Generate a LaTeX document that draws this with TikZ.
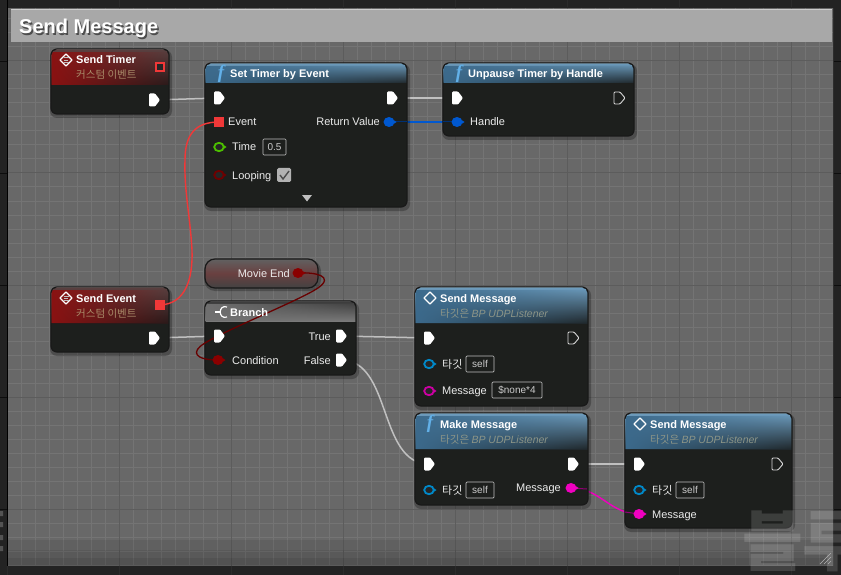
\documentclass[tikz,border=0pt]{standalone}
\usepackage{fontspec}
\setmainfont{Liberation Sans}
\newfontfamily\kr{Noto Sans CJK KR}
\newfontfamily\serifi{Liberation Serif}
\usetikzlibrary{fadings,calc}
\definecolor{bodyc}{HTML}{1D1F1D}
\definecolor{wiregray}{HTML}{C0C0C0}
\definecolor{evred}{HTML}{F03838}
\definecolor{bluepin}{HTML}{0058D0}
\definecolor{tgtblue}{HTML}{0088C8}
\definecolor{magpin}{HTML}{F000C0}
\definecolor{darkred}{HTML}{8A0000}
\definecolor{subtan}{HTML}{A88A68}
\definecolor{subgray}{HTML}{8C9588}
\definecolor{bgc}{HTML}{686868}
\definecolor{bgshade}{HTML}{505050}
\definecolor{gridminor}{HTML}{747474}
\definecolor{gridmajor}{HTML}{5C5C5C}
\definecolor{outerc}{HTML}{232323}
\definecolor{blueTop}{HTML}{6E9EC0}
\definecolor{blueBot}{HTML}{20282C}
\definecolor{blueFade}{HTML}{3C6A8C}
\definecolor{redTop}{HTML}{5A4040}
\definecolor{redBot}{HTML}{2A1A1A}
\definecolor{redFade}{HTML}{8A1212}
\definecolor{grayTop}{HTML}{3A3A3A}
\definecolor{grayBot}{HTML}{7A7A7A}
\definecolor{grayFade}{HTML}{707070}
\definecolor{funcblue}{HTML}{62B0E8}
\tikzset{
  x=1pt,y=-1pt,
  uebody/.style={draw=black!90,line width=1.2pt,fill=bodyc,rounded corners=6pt,inner sep=0pt},
  lab/.style={inner sep=0pt,anchor=base west,yshift=-4pt,text=white!92!black,font=\fontsize{11}{13}\selectfont},
  labr/.style={lab,anchor=base east},
  titl/.style={inner sep=0pt,anchor=base west,yshift=-4pt,text=white,font=\fontsize{11}{13}\selectfont\bfseries},
  subt/.style={inner sep=0pt,anchor=base west,yshift=-4pt,font=\kr\fontsize{10.5}{13}\selectfont},
  funcf/.style={inner sep=0pt,text=funcblue,font=\serifi\bfseries\itshape\fontsize{19}{20}\selectfont},
  valbox/.style={draw=white!75!black,line width=.7pt,rounded corners=1pt,inner sep=0pt,text=white!80!black,font=\fontsize{10}{12}\selectfont},
  wire/.style={wiregray,line width=1.5pt},
  execfill/.pic={\path[fill=white,rounded corners=1pt] (-5,-6.5)--(1,-6.5)--(6,0)--(1,6.5)--(-5,6.5)--cycle;},
  execopen/.pic={\path[draw=white!85!black,line width=.9pt,rounded corners=1pt] (-5,-6)--(1,-6)--(6,0)--(1,6)--(-5,6)--cycle;},
}
\newcommand{\datapin}[2]{%
  \fill[#2] (#1) ellipse[x radius=5.5,y radius=5];
  \fill[#2] ($(#1)+(4.5,-2)$)--($(#1)+(7.5,0)$)--($(#1)+(4.5,2)$)--cycle;}
\newcommand{\ringpin}[2]{%
  \filldraw[draw=#2,fill=black!85,line width=1.8pt] (#1) ellipse[x radius=4.8,y radius=4.2];
  \fill[#2] ($(#1)+(4.5,-2)$)--($(#1)+(7.5,0)$)--($(#1)+(4.5,2)$)--cycle;}
\newcommand{\diamondicon}[1]{%
  \draw[white,line width=1.2pt,line join=round] ($(#1)+(-6,0)$)--($(#1)+(0,-6)$)--($(#1)+(6,0)$)--($(#1)+(0,6)$)--cycle;}
\newcommand{\eventmark}[1]{%
  \draw[white!75!black,line width=.6pt] ($(#1)+(-2.5,-2.2)$)--($(#1)+(2.5,-2.2)$) ($(#1)+(-2.5,0)$)--($(#1)+(2,0)$) ($(#1)+(-2.5,2.2)$)--($(#1)+(2.5,2.2)$);}
\newcommand{\uenode}[9]{%
  \pgfmathsetmacro{\cx}{(#2+#4)/2}\pgfmathsetmacro{\cy}{(#3+#5)/2}%
  \pgfmathsetmacro{\ww}{#4-#2}\pgfmathsetmacro{\hh}{#5-#3}%
  \fill[black,opacity=.25,rounded corners=7pt] (#2-1,#3+1) rectangle (#4+3,#5+4);
  \node[uebody,minimum width=\ww pt,minimum height=\hh pt] (#1) at (\cx,\cy) {};
  \begin{scope}
    \clip[rounded corners=5.5pt] (#2+.6,#3+.6) rectangle (#4-.6,#5-.6);
    \shade[top color=#8,bottom color=#9] (#2,#3) rectangle (#4,#6);
    \fill[#7,path fading=east] (#2,#3+3) rectangle (#4,#6);
    \fill[white!35!#8] (#2,#3) rectangle (#4,#3+1.4);
  \end{scope}}
\begin{document}
\begin{tikzpicture}
\useasboundingbox (0,0) rectangle (841,575);
\clip (0,0) rectangle (841,575);
% canvas
\fill[outerc] (0,0) rectangle (841,575);
\foreach \gx in {7,119,231,343,455,567,679,791} \draw[white!17!black,line width=.7pt] (\gx,0)--(\gx,7) (\gx,566)--(\gx,575);
\foreach \gy in {61,173,285,397,509} \draw[white!5!black,line width=.7pt] (0,\gy)--(7,\gy) (834,\gy)--(841,\gy);
\fill[bgc] (8,8) rectangle (833,566);
\begin{scope}
 \clip (8,8) rectangle (833,566);
 \foreach \i in {0,...,60} {
   \pgfmathsetmacro{\gx}{7+14*\i}
   \draw[gridminor,line width=1pt] (\gx,8)--(\gx,566);}
 \foreach \i in {0,...,41} {
   \pgfmathsetmacro{\gy}{5+14*\i}
   \draw[gridminor,line width=1pt] (8,\gy)--(833,\gy);}
 \foreach \gx in {7,119,231,343,455,567,679,791} \draw[gridmajor,line width=1pt] (\gx,8)--(\gx,566);
 \foreach \gy in {61,173,285,397,509} \draw[gridmajor,line width=1pt] (8,\gy)--(833,\gy);
 \shade[top color=bgshade,bottom color=bgshade,opacity=0] (8,530) rectangle (833,566);
 \fill[black,opacity=.07] (8,540) rectangle (833,566);
 \fill[black,opacity=.07] (8,550) rectangle (833,566);
 \fill[black,opacity=.08] (8,558) rectangle (833,566);
\end{scope}
\draw[black,line width=1pt] (7.5,0)--(7.5,566);
% comment title
\fill[white!66!black] (11,9) rectangle (832,42);
\draw[white!80!black,line width=.7pt] (11,9)--(832,9);
\node[inner sep=0pt,anchor=base west,text=black!70,font=\fontsize{20}{22}\selectfont\bfseries] (titleshadow) at (20.5,35.5) {Send Message};
\node[inner sep=0pt,anchor=base west,text=white,font=\fontsize{20}{22}\selectfont\bfseries] (title) at (19,34) {Send Message};
% pin coordinates
\coordinate (stExec) at (154,100);
\coordinate (stDel) at (160,67);
\coordinate (seExec) at (154,338);
\coordinate (seDel) at (160,305);
\coordinate (tIn) at (219,98);
\coordinate (tOut) at (392,98);
\coordinate (tEvent) at (219,122);
\coordinate (tRet) at (389,122);
\coordinate (tTime) at (219,147);
\coordinate (tLoop) at (219,175);
\coordinate (uIn) at (457,98);
\coordinate (uOut) at (619,98);
\coordinate (uHandle) at (457,122);
\coordinate (mEnd) at (298,273);
\coordinate (bIn) at (219,336);
\coordinate (bTrue) at (341,336);
\coordinate (bFalse) at (341,360);
\coordinate (bCond) at (218,360);
\coordinate (a1In) at (429,338);
\coordinate (a1Out) at (573,338);
\coordinate (a1Tgt) at (429,364);
\coordinate (a1Msg) at (429,391);
\coordinate (mkIn) at (429,464);
\coordinate (mkOut) at (573,464);
\coordinate (mkTgt) at (429,490);
\coordinate (mkMsg) at (571,488);
\coordinate (a2In) at (639,464);
\coordinate (a2Out) at (777,464);
\coordinate (a2Tgt) at (639,490);
\coordinate (a2Msg) at (639,514);
% wires behind the nodes
\draw[wire] (stExec) -- (tIn);
\draw[wire] (tOut) -- (uIn);
\draw[wire] (seExec) -- (bIn);
\draw[wire] (bTrue) -- (a1In);
\draw[wire] (bFalse) .. controls (392,360) and (378,464) .. (mkIn);
\draw[wire] (mkOut) -- (a2In);
\draw[bluepin,line width=1.4pt] (tRet) -- (uHandle);
\draw[magpin,line width=1.4pt] (mkMsg) .. controls (600,488) and (610,514) .. (a2Msg);
% nodes
\uenode{sendTimer}{51}{49}{169}{114}{85}{redFade}{redTop}{redBot}
\uenode{setTimer}{205}{63}{407}{207}{83}{blueFade}{blueTop}{blueBot}
\uenode{unpause}{443}{63}{634}{136}{83}{blueFade}{blueTop}{blueBot}
\uenode{sendEvent}{51}{287}{169}{352}{323}{redFade}{redTop}{redBot}
\uenode{branch}{205}{301}{356}{375}{321}{grayFade}{grayTop}{grayBot}
\uenode{sendA}{415}{287}{588}{406}{323}{blueFade}{blueTop}{blueBot}
\uenode{makeMsg}{415}{413}{588}{505}{449}{blueFade}{blueTop}{blueBot}
\uenode{sendB}{625}{413}{792}{528}{449}{blueFade}{blueTop}{blueBot}
% movie end pill
\fill[black,opacity=.25,rounded corners=11pt] (204,260) rectangle (321,291);
\node[draw=black!90,line width=1.2pt,rounded corners=10pt,inner sep=0pt,minimum width=113pt,minimum height=29pt,top color=white!38!black,bottom color=white!26!black,middle color=red!22!black!75] (movie) at (261.5,273.5) {};
% wires that cross over the nodes
\draw[evred,line width=1.4pt] (seDel) .. controls (185,304) and (193,280) .. (192,250) .. controls (190,215) and (184,190) .. (185,160) .. controls (185,135) and (195,122) .. (tEvent);
\draw[darkred!75!black,line width=1.3pt] (mEnd) .. controls (315,272) and (335,276) .. (318,288) .. controls (300,300) and (230,328) .. (205,343) .. controls (190,352) and (195,360) .. (bCond);
\draw[bluepin!55!black,line width=1pt] (tRet) -- (407,122);
\draw[bluepin!55!black,line width=1pt] (443,122) -- (uHandle);
\draw[magpin!60!black,line width=1pt] (mkMsg) -- +(16,1);
\draw[magpin!60!black,line width=1pt] (625,512) -- (a2Msg);
% header titles
\diamondicon{66,60}
\eventmark{66,60}
\node[titl] (stT) at (76,60) {Send Timer};
\node[subt,text=subtan] (stS) at (76,75) {커스텀 이벤트};
\diamondicon{66,298}
\eventmark{66,298}
\node[titl] (seT) at (76,298) {Send Event};
\node[subt,text=subtan] (seS) at (76,313) {커스텀 이벤트};
\node[funcf] (f1) at (221,74) {f};
\node[titl] (tT) at (230,74) {Set Timer by Event};
\node[funcf] (f2) at (459,74) {f};
\node[titl] (uT) at (468,74) {Unpause Timer by Handle};
\draw[white,line width=1.2pt] (227,307) .. controls (218,304) and (218,320) .. (227,317);
\draw[white,line width=1.2pt] (215,312)--(219.5,312);
\node[titl] (bT) at (230,312) {Branch};
\diamondicon{430,298}
\node[titl] (aT) at (440,298) {Send Message};
\node[subt,text=subgray] (aS) at (440,313) {타깃은 {\rmfamily\itshape BP UDPListener}};
\node[funcf] (f3) at (430,424) {f};
\node[titl] (mT) at (440,424) {Make Message};
\node[subt,text=subgray] (mS) at (440,439) {타깃은 {\rmfamily\itshape BP UDPListener}};
\diamondicon{640,424}
\node[titl] (bbT) at (650,424) {Send Message};
\node[subt,text=subgray] (bbS) at (650,439) {타깃은 {\rmfamily\itshape BP UDPListener}};
% labels
\node[lab] (lEvent) at (228,122) {Event};
\node[labr] (lRet) at (380,122) {Return Value};
\node[lab] (lTime) at (232,147) {Time};
\node[valbox,minimum width=23pt,minimum height=16pt] (vTime) at (274.5,147) {0.5};
\node[lab] (lLoop) at (232,175) {Looping};
\node[lab] (lHandle) at (470,122) {Handle};
\node[labr] (lMovie) at (290,273) {Movie End};
\node[labr] (lTrue) at (331,336) {True};
\node[labr] (lFalse) at (331,360) {False};
\node[lab] (lCond) at (232,360) {Condition};
\node[lab,font=\kr\fontsize{11}{13}\selectfont] (lT1) at (442,364) {타깃};
\node[valbox,minimum width=28pt,minimum height=16pt] (v1) at (480,364) {self};
\node[lab] (lM1) at (442,390) {Message};
\node[valbox,minimum width=50pt,minimum height=16pt] (v2) at (517,390) {\$none*4};
\node[lab,font=\kr\fontsize{11}{13}\selectfont] (lT2) at (442,490) {타깃};
\node[valbox,minimum width=28pt,minimum height=16pt] (v3) at (480,490) {self};
\node[labr] (lM2) at (561,487) {Message};
\node[lab,font=\kr\fontsize{11}{13}\selectfont] (lT3) at (652,490) {타깃};
\node[valbox,minimum width=28pt,minimum height=16pt] (v4) at (690,490) {self};
\node[lab] (lM3) at (652,514) {Message};
% exec pins
\foreach \p in {stExec,seExec,tIn,tOut,uIn,bIn,bTrue,bFalse,a1In,mkIn,mkOut,a2In}
  \path (\p) pic {execfill};
\foreach \p in {uOut,a1Out,a2Out}
  \path (\p) pic {execopen};
% data pins
\filldraw[draw=evred,fill=black!85,line width=1.5pt] (156.2,63.2) rectangle (163.8,70.8);
\fill[evred] (155,300) rectangle (165,310);
\fill[evred] (214,117) rectangle (224,127);
\ringpin{tTime}{green!60!yellow!75!black}
\ringpin{tLoop}{darkred!80!black}
\datapin{tRet}{bluepin}
\datapin{uHandle}{bluepin}
\datapin{mEnd}{darkred}
\datapin{bCond}{darkred}
\ringpin{a1Tgt}{tgtblue}
\ringpin{a1Msg}{magpin!85!black}
\ringpin{mkTgt}{tgtblue}
\datapin{mkMsg}{magpin}
\ringpin{a2Tgt}{tgtblue}
\datapin{a2Msg}{magpin}
% checkbox and expander
\fill[white!70!black,rounded corners=1.5pt] (277,168) rectangle (291,182);
\draw[black!70,line width=1.4pt] (280,175)--(283,179)--(289,171);
\fill[white!75!black] (302,195)--(312,195)--(307,201.5)--cycle;
% watermark over the graph
\node[inner sep=0pt,anchor=west,text=white,opacity=.14,font=\kr\bfseries\fontsize{66}{70}\selectfont] (wm) at (742,541) {블루};
\fill[white,opacity=.22] (0,511) rectangle (3,516) (0,522) rectangle (3,527) (0,535) rectangle (3,540) (0,546) rectangle (3,551);
% resize grip
\draw[white!70!black,line width=.6pt] (820,564)--(831,553) (824,564)--(831,557) (828,564)--(831,561);
\end{tikzpicture}
\end{document}
